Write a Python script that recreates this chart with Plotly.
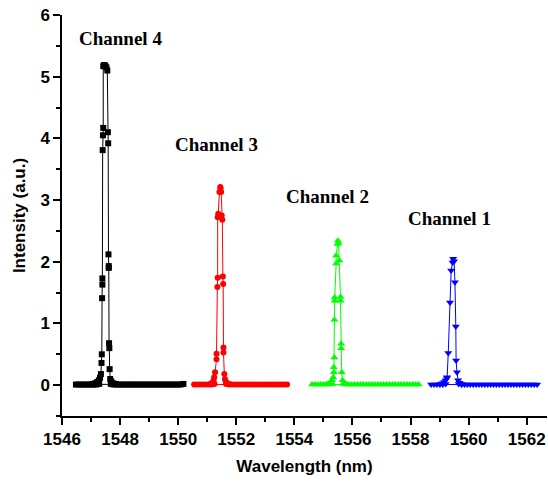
import plotly.graph_objects as go

# ---- Channel 4 (black squares) ----
ch4_base_wl = [1546.48, 1546.58, 1546.68, 1546.78, 1546.88, 1546.98, 1547.08, 1547.18, 1547.28,
               1547.68, 1547.78, 1547.88, 1547.98, 1548.08, 1548.18, 1548.28, 1548.38, 1548.48,
               1548.58, 1548.68, 1548.78, 1548.88, 1548.98, 1549.08, 1549.18, 1549.28, 1549.38,
               1549.48, 1549.58, 1549.68, 1549.78, 1549.88, 1549.98, 1550.08, 1550.18]
ch4_base_int = [0.01, 0.01, 0.01, 0.01, 0.01, 0.01, 0.01, 0.01, 0.02,
                0.02, 0.01, 0.01, 0.01, 0.01, 0.01, 0.01, 0.01, 0.01,
                0.01, 0.01, 0.01, 0.01, 0.01, 0.01, 0.01, 0.01, 0.01,
                0.01, 0.01, 0.01, 0.01, 0.01, 0.01, 0.01, 0.02]
ch4_peak_wl = [1547.05, 1547.14, 1547.21, 1547.27, 1547.31, 1547.34, 1547.36, 1547.37, 1547.38,
               1547.39, 1547.39, 1547.40, 1547.41, 1547.42, 1547.42, 1547.45, 1547.49, 1547.53,
               1547.56, 1547.58, 1547.59, 1547.60, 1547.61, 1547.61, 1547.62, 1547.63, 1547.64,
               1547.66, 1547.70, 1547.76, 1547.85]
ch4_peak_int = [0.02, 0.03, 0.05, 0.08, 0.12, 0.18, 0.36, 0.50, 1.41,
                1.63, 1.73, 3.81, 4.05, 4.17, 5.17, 5.19, 5.18, 5.15,
                5.10, 4.10, 3.92, 2.12, 1.93, 1.90, 0.68, 0.60, 0.26,
                0.10, 0.06, 0.03, 0.02]

# ---- Channel 3 (red circles) ----
ch3_base_wl = [1550.55, 1550.65, 1550.75, 1550.85, 1550.95, 1551.05, 1551.15, 1551.25,
               1551.65, 1551.75, 1551.85, 1551.95, 1552.05, 1552.15, 1552.25, 1552.35, 1552.45,
               1552.55, 1552.65, 1552.75, 1552.85, 1552.95, 1553.05, 1553.15, 1553.25, 1553.35,
               1553.45, 1553.55, 1553.65, 1553.75]
ch3_base_int = [0.01, 0.01, 0.01, 0.01, 0.01, 0.01, 0.01, 0.02,
                0.02, 0.01, 0.01, 0.01, 0.01, 0.01, 0.01, 0.01, 0.01,
                0.01, 0.01, 0.01, 0.01, 0.01, 0.01, 0.01, 0.01, 0.01,
                0.01, 0.01, 0.01, 0.01]
ch3_peak_wl = [1551.10, 1551.17, 1551.22, 1551.24, 1551.27, 1551.32, 1551.32, 1551.35, 1551.36,
               1551.36, 1551.38, 1551.42, 1551.45, 1551.46, 1551.48, 1551.50, 1551.52, 1551.54,
               1551.55, 1551.56, 1551.56, 1551.59, 1551.61, 1551.64, 1551.69, 1551.77]
ch3_peak_int = [0.02, 0.04, 0.08, 0.13, 0.21, 0.42, 0.51, 1.59, 1.74,
                2.72, 2.78, 3.13, 3.21, 3.19, 3.13, 2.75, 2.68, 1.76,
                1.64, 0.61, 0.53, 0.18, 0.10, 0.06, 0.03, 0.02]

# ---- Channel 2 (green up-triangles) ----
ch2_base_wl = [1554.61, 1554.71, 1554.81, 1554.91, 1555.01, 1555.11, 1555.21, 1555.31,
               1555.68, 1555.78, 1555.88, 1555.98, 1556.08, 1556.18, 1556.28, 1556.38, 1556.48,
               1556.58, 1556.68, 1556.78, 1556.88, 1556.98, 1557.08, 1557.18, 1557.28, 1557.38,
               1557.48, 1557.58, 1557.68, 1557.78, 1557.88, 1557.98, 1558.08, 1558.18, 1558.28]
ch2_base_int = [0.01, 0.01, 0.01, 0.01, 0.01, 0.01, 0.01, 0.02,
                0.02, 0.01, 0.01, 0.01, 0.01, 0.01, 0.01, 0.01, 0.01,
                0.01, 0.01, 0.01, 0.01, 0.01, 0.01, 0.01, 0.01, 0.01,
                0.01, 0.01, 0.01, 0.01, 0.01, 0.01, 0.01, 0.01, 0.01]
ch2_peak_wl = [1555.12, 1555.20, 1555.26, 1555.30, 1555.34, 1555.36, 1555.36, 1555.38, 1555.38,
               1555.39, 1555.39, 1555.44, 1555.44, 1555.49, 1555.50, 1555.52, 1555.55, 1555.59,
               1555.59, 1555.61, 1555.61, 1555.63, 1555.66, 1555.71, 1555.79]
ch2_peak_int = [0.02, 0.03, 0.05, 0.08, 0.13, 0.21, 0.29, 0.45, 1.06,
                1.37, 1.42, 1.97, 2.10, 2.29, 2.34, 2.31, 2.02, 1.43,
                1.37, 0.67, 0.60, 0.21, 0.08, 0.04, 0.02]

# ---- Channel 1 (blue down-triangles) ----
ch1_base_wl = [1558.71, 1558.81, 1558.91, 1559.01, 1559.11, 1559.21,
               1559.66, 1559.76, 1559.86, 1559.96, 1560.06, 1560.16, 1560.26, 1560.36, 1560.46,
               1560.56, 1560.66, 1560.76, 1560.86, 1560.96, 1561.06, 1561.16, 1561.26, 1561.36,
               1561.46, 1561.56, 1561.66, 1561.76, 1561.86, 1561.96, 1562.06, 1562.16, 1562.26,
               1562.36]
ch1_base_int = [0.01, 0.01, 0.01, 0.01, 0.01, 0.02,
                0.02, 0.01, 0.01, 0.01, 0.01, 0.01, 0.01, 0.01, 0.01,
                0.01, 0.01, 0.01, 0.01, 0.01, 0.01, 0.01, 0.01, 0.01,
                0.01, 0.01, 0.01, 0.01, 0.01, 0.01, 0.01, 0.01, 0.01,
                0.01]
ch1_peak_wl = [1559.02, 1559.10, 1559.16, 1559.21, 1559.25, 1559.26, 1559.30, 1559.36, 1559.40,
               1559.45, 1559.47, 1559.50, 1559.53, 1559.56, 1559.57, 1559.60, 1559.64, 1559.69,
               1559.77]
ch1_peak_int = [0.02, 0.03, 0.05, 0.08, 0.11, 0.13, 0.52, 1.34, 1.86,
                1.99, 2.05, 2.01, 1.67, 0.95, 0.40, 0.21, 0.08, 0.04,
                0.02]

channel_names = ["Channel 4", "Channel 3", "Channel 2", "Channel 1"]
label_wl = [1548.0, 1551.33, 1555.13, 1559.33]
label_int = [5.62, 3.90, 3.05, 2.70]

series = [
    (ch4_base_wl, ch4_base_int, ch4_peak_wl, ch4_peak_int, "#000000", "square", 6),
    (ch3_base_wl, ch3_base_int, ch3_peak_wl, ch3_peak_int, "#ff0000", "circle", 6),
    (ch2_base_wl, ch2_base_int, ch2_peak_wl, ch2_peak_int, "#00ff00", "triangle-up", 7),
    (ch1_base_wl, ch1_base_int, ch1_peak_wl, ch1_peak_int, "#0000ff", "triangle-down", 7),
]

fig = go.Figure()
for name, (bw, bi, pw, pi, color, symbol, msize) in zip(channel_names, series):
    assert len(bw) == len(bi) and len(pw) == len(pi)
    # baseline scan, then a break, then the peak scan
    xs = list(bw) + [None] + list(pw)
    ys = list(bi) + [None] + list(pi)
    fig.add_trace(go.Scatter(
        x=xs, y=ys, name=name, mode="lines+markers",
        line=dict(color=color, width=1),
        marker=dict(color=color, symbol=symbol, size=msize, line=dict(width=0)),
        connectgaps=False, showlegend=False,
    ))

for name, lx, ly in zip(channel_names, label_wl, label_int):
    fig.add_annotation(
        x=lx, y=ly, xref="x", yref="y", text=name, showarrow=False,
        font=dict(family="Liberation Serif, Times New Roman, serif", size=19,
                  color="black", weight="bold"),
    )

axis_font = dict(family="Liberation Sans, Arial, sans-serif", size=17, color="black", weight="bold")

fig.update_layout(
    width=548, height=483,
    margin=dict(l=62, r=1, t=15, b=67),
    plot_bgcolor="white", paper_bgcolor="white",
    xaxis=dict(
        range=[1546, 1562.7], tick0=1546, dtick=2,
        showline=True, linecolor="black", linewidth=1.5,
        ticks="outside", ticklen=7, tickwidth=1.5, tickcolor="black",
        minor=dict(ticks="outside", ticklen=4, tickwidth=1.5, tickcolor="black", dtick=1, tick0=1546),
        showgrid=False, zeroline=False,
        tickfont=axis_font,
        title=dict(text="Wavelength (nm)", font=axis_font, standoff=12),
    ),
    yaxis=dict(
        range=[-0.5, 6], tick0=0, dtick=1,
        showline=True, linecolor="black", linewidth=1.5,
        ticks="outside", ticklen=7, tickwidth=1.5, tickcolor="black",
        minor=dict(ticks="outside", ticklen=4, tickwidth=1.5, tickcolor="black", dtick=0.5, tick0=0),
        showgrid=False, zeroline=False,
        tickfont=axis_font,
        title=dict(text="Intensity (a.u.)", font=axis_font, standoff=10),
    ),
)

fig.write_html("out.html")
